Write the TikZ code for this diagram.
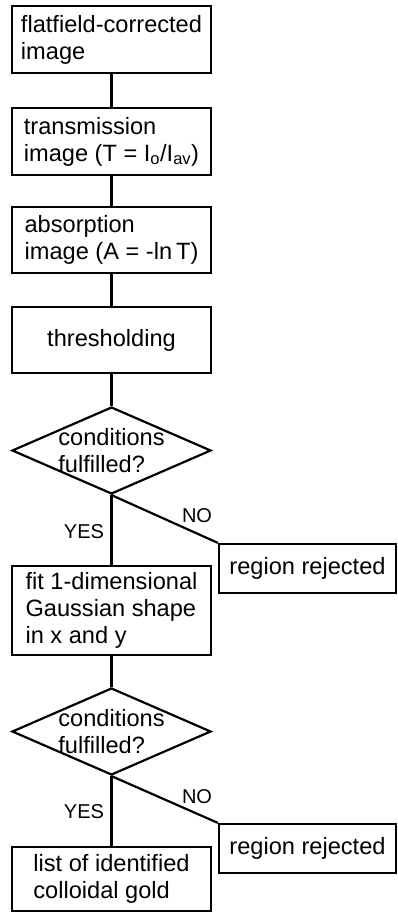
\documentclass[tikz,border=0pt]{standalone}
\usepackage{fontspec}
\setmainfont{Liberation Sans}
\usetikzlibrary{shapes.geometric}
\begin{document}
\begin{tikzpicture}[x=1pt,y=-1pt,line width=2.2pt]
            \tikzstyle{every node}=[inner sep=0pt,draw,align=left,font=\fontsize{23.6}{27}\selectfont]
            \tikzstyle{stepbox}=[rectangle,minimum width=199pt]
            \tikzstyle{decision}=[diamond,minimum width=199pt,minimum height=87pt]
            \useasboundingbox (0,0) rectangle (398,913);
            \draw (111.5,39.5) node [stepbox,minimum height=67pt] (1) {flatfield-corrected\\image};
            \draw (111.5,141.5) node [stepbox,minimum height=67pt] (2) {transmission\\image (T = I\textsubscript{o}/I\textsubscript{av})};
            \draw (111.5,240) node [stepbox,minimum height=66pt] (3) {absorption\\image (A = -ln\,T)};
            \draw (111.5,340) node [stepbox,minimum height=66pt] (4) {thresholding};
            \draw (111.5,450.5) node [decision] (5) {};
            \draw (111.5,450.5) node [draw=none] {conditions\\fulfilled?};
            \draw (307.5,568.5) node [stepbox,minimum width=177pt,minimum height=49pt] (6) {region rejected};
            \draw (111.5,610.5) node [stepbox,minimum height=89pt] (7) {fit 1-dimensional\\Gaussian shape\\in x and y};
            \draw (111.5,731.5) node [decision] (8) {};
            \draw (111.5,731.5) node [draw=none] {conditions\\fulfilled?};
            \draw (307.5,848.5) node [stepbox,minimum width=177pt,minimum height=49pt] (9) {region rejected};
            \draw (111.5,879) node [stepbox,minimum height=64pt] (10) {list of identified\\colloidal gold};
            \draw (1) -- (2);
            \draw (2) -- (3);
            \draw (3) -- (4);
            \draw (4) -- (5);
            \draw (5.south) -- (7.north);
            \draw (5.south) -- (6.north west);
            \draw (7) -- (8);
            \draw (8.south) -- (10.north);
            \draw (8.south) -- (9.north west);
            \draw (84,532) node[draw=none,font=\fontsize{20}{24}\selectfont] {YES};
            \draw (197,516) node[draw=none,font=\fontsize{20}{24}\selectfont] {NO};
            \draw (84,812) node[draw=none,font=\fontsize{20}{24}\selectfont] {YES};
            \draw (197,797) node[draw=none,font=\fontsize{20}{24}\selectfont] {NO};
        \end{tikzpicture}
\end{document}
